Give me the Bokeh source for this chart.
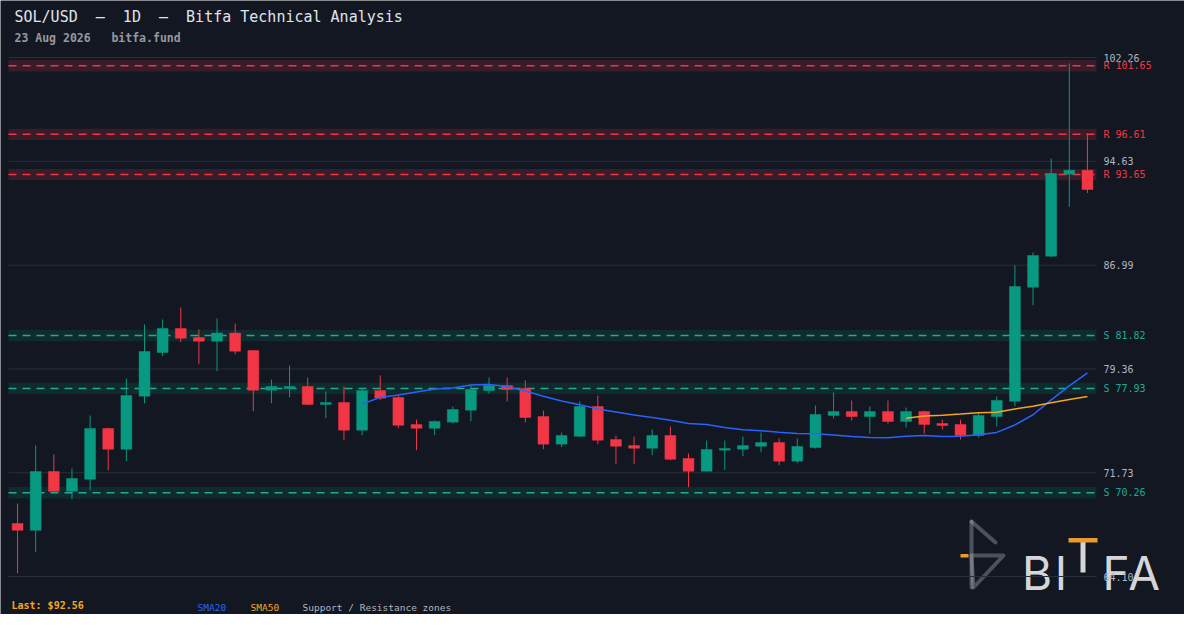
import pandas as pd
from bokeh.plotting import figure
from bokeh.models import Label, PolyAnnotation, ColumnDataSource
from bokeh.core.properties import value
from bokeh.embed import file_html
from bokeh.resources import INLINE

# ---------------- data ----------------
opens = [68.00, 67.50, 71.82, 70.37, 71.25, 74.98, 73.46, 77.36, 80.57, 82.33,
         81.67, 81.40, 82.00, 80.72, 77.80, 77.92, 78.07, 76.75, 76.89, 74.86,
         77.77, 77.26, 75.27, 75.00, 75.45, 76.33, 77.77, 78.14, 77.92, 75.86,
         73.83, 74.41, 76.60, 74.17, 73.73, 73.53, 74.47, 72.78, 71.84, 73.39,
         73.46, 73.68, 73.95, 72.58, 73.58, 75.94, 76.23, 75.86, 76.23, 75.50,
         76.23, 75.35, 75.28, 74.47, 75.86, 76.99, 85.37, 87.65, 93.68, 93.97]
highs = [69.46, 73.73, 73.07, 72.04, 75.94, 75.05, 78.66, 82.63, 83.00, 83.88,
         82.26, 83.07, 82.70, 80.75, 78.58, 79.61, 78.73, 77.70, 78.07, 77.92,
         78.88, 77.48, 75.64, 75.57, 76.60, 78.22, 78.73, 78.73, 78.51, 76.30,
         74.69, 76.97, 77.41, 74.47, 74.39, 74.91, 75.13, 73.14, 74.10, 74.10,
         74.39, 74.69, 74.25, 74.25, 76.67, 77.63, 77.04, 76.60, 77.04, 76.52,
         76.30, 75.64, 75.64, 76.16, 77.33, 86.97, 87.92, 94.83, 101.82, 96.67]
lows = [64.34, 65.89, 70.30, 69.78, 70.44, 71.92, 72.58, 76.84, 80.30, 81.33,
        79.71, 79.20, 80.44, 76.25, 76.84, 77.28, 76.70, 75.74, 74.12, 74.49,
        77.06, 75.00, 73.39, 74.49, 75.35, 75.52, 77.55, 76.97, 75.42, 73.46,
        73.61, 74.35, 73.83, 72.36, 72.36, 73.02, 72.65, 70.67, 71.80, 71.92,
        72.94, 73.24, 72.28, 72.43, 73.51, 75.72, 75.57, 74.61, 75.35, 75.05,
        74.61, 74.91, 74.17, 74.32, 75.13, 76.62, 84.05, 87.58, 91.28, 92.30]
closes = [67.50, 71.82, 70.37, 71.30, 74.98, 73.46, 77.41, 80.64, 82.33, 81.62,
          81.40, 82.00, 80.67, 77.80, 78.07, 78.07, 76.75, 76.89, 74.86, 77.77,
          77.21, 75.22, 75.00, 75.50, 76.38, 77.85, 78.14, 77.85, 75.79, 73.83,
          74.47, 76.60, 74.12, 73.68, 73.53, 74.47, 72.72, 71.84, 73.44, 73.51,
          73.73, 73.95, 72.58, 73.66, 76.01, 76.23, 75.86, 76.23, 75.50, 76.23,
          75.28, 75.20, 74.47, 75.94, 77.04, 85.42, 87.70, 93.73, 93.97, 92.56]

price_levels = [64.10, 71.73, 79.36, 86.99, 94.63, 102.26]
resistance_levels = [101.65, 96.61, 93.65]
support_levels = [81.82, 77.93, 70.26]
last_price = 92.56

NB = "\u00a0"
title_text = ("SOL/USD" + NB * 2 + "\u2014" + NB * 2 + "1D" + NB * 2 + "\u2014" + NB * 2
              + "Bitfa Technical Analysis")
subtitle_text = "23 Aug 2026" + NB * 3 + "bitfa.fund"
legend_items = ["SMA20", "SMA50", "Support / Resistance zones"]

# ---------------- styles ----------------
BG = "#131722"
GRID = "#2a2e39"
UP = "#089981"
DOWN = "#f23645"
SMA20_C = "#2962ff"
SMA50_C = "#f5a623"
R_LINE = "#f23645"
R_BAND = "#391c29"
S_LINE = "#22ab94"
S_BAND = "#0f2b2d"
TXT = "#b2b5be"
MONO = "DejaVu Sans Mono"
ZONE_HALF = 0.42

# ---------------- layout: the frame fills the canvas ----------------
W, H = 1184, 614
DL, DR, DT, DB = 8, 1096, 57, 576      # price/candle region inside the canvas (px)
n = len(closes)
x_lo, x_hi = -0.5, n - 0.5
y_lo, y_hi = price_levels[0], price_levels[-1]
kx = (DR - DL) / (x_hi - x_lo)
ky = (DB - DT) / (y_hi - y_lo)
x_range = (x_lo - DL / kx, x_hi + (W - DR) / kx)
y_range = (y_lo - (H - DB) / ky, y_hi + DT / ky)

idx = list(range(n))
colors = [UP if c >= o else DOWN for o, c in zip(opens, closes)]
src = ColumnDataSource(dict(
    x=idx, open=opens, high=highs, low=lows, close=closes,
    top=[max(o, c) for o, c in zip(opens, closes)],
    bottom=[min(o, c) for o, c in zip(opens, closes)],
    color=colors,
))

s = pd.Series(closes)
sma20 = s.rolling(20).mean().tolist()
sma50 = s.rolling(50).mean().tolist()

p = figure(width=W, height=H, x_range=x_range, y_range=y_range,
           output_backend="svg", toolbar_location=None,
           background_fill_color=BG, border_fill_color=BG,
           outline_line_color=None, x_axis_location=None, y_axis_location=None,
           min_border=0)
p.grid.visible = False

# ---------------- logo (drawn underneath the chart marks) ----------------
LOGO = "#d6d6da"
ORANGE = "#e89b2c"

def sx(X):
    return X - 8

def sy(Y):
    return 622 - Y

def stroke(pts, color, w=4):
    p.add_layout(PolyAnnotation(xs=[sx(a) for a, b in pts], ys=[sy(b) for a, b in pts],
                                xs_units="screen", ys_units="screen",
                                line_color=color, line_width=w, line_cap="round",
                                line_join="round", fill_alpha=0, level="underlay"))

def rect(x0, y0, x1, y1, color):
    p.add_layout(PolyAnnotation(xs=[sx(x0), sx(x1), sx(x1), sx(x0)],
                                ys=[sy(y0), sy(y0), sy(y1), sy(y1)],
                                xs_units="screen", ys_units="screen",
                                line_alpha=0, fill_color=color, fill_alpha=1,
                                level="underlay"))

stroke([(979, 529), (979, 595)], LOGO)
stroke([(979, 529), (1003, 550)], LOGO)
stroke([(979, 563), (1011, 563), (981, 595)], LOGO)
rect(968, 561.5, 976, 565, ORANGE)
for ch, X in [("B", 1044.5), ("I", 1068.5), ("F", 1123.5), ("A", 1151.5)]:
    p.add_layout(Label(x=sx(X), y=sy(580), x_units="screen", y_units="screen",
                       text=ch, text_color=LOGO, text_font="Inter",
                       text_font_size="46px", text_align="center",
                       text_baseline="alphabetic", level="underlay"))
rect(1088, 549, 1093, 580, LOGO)
rect(1076, 545.5, 1105, 550, ORANGE)

# price grid + price labels (right side)
p.segment(x0=[x_lo] * len(price_levels), x1=[x_hi] * len(price_levels),
          y0=price_levels, y1=price_levels, line_color=GRID, line_width=1)
p.text(x=[x_hi] * len(price_levels), y=price_levels,
       text=["%.2f" % v for v in price_levels], x_offset=7,
       text_color=TXT, text_font=value(MONO), text_font_size=value("10px"),
       text_baseline="middle", text_align="left")

# zones
def zones(levels, band, line, prefix):
    k = len(levels)
    p.quad(left=[x_lo] * k, right=[x_hi] * k,
           bottom=[v - ZONE_HALF for v in levels], top=[v + ZONE_HALF for v in levels],
           fill_color=band, line_color=None)
    p.segment(x0=[x_lo] * k, x1=[x_hi] * k, y0=levels, y1=levels,
              line_color=line, line_width=1.5, line_dash="8 6")
    p.text(x=[x_hi] * k, y=levels, text=["%s %.2f" % (prefix, v) for v in levels],
           x_offset=7, text_color=line, text_font=value(MONO),
           text_font_size=value("10px"), text_baseline="middle", text_align="left")

zones(resistance_levels, R_BAND, R_LINE, "R")
zones(support_levels, S_BAND, S_LINE, "S")

# candles
p.segment(x0="x", y0="low", x1="x", y1="high", color="color", line_width=1, source=src)
p.vbar(x="x", width=0.6, top="top", bottom="bottom", fill_color="color",
       line_color="color", line_width=0.5, source=src)

# moving averages
p.line(idx, sma20, line_color=SMA20_C, line_width=1.5)
p.line(idx, sma50, line_color=SMA50_C, line_width=1.5)

# ---------------- texts ----------------
p.add_layout(Label(x=sx(22), y=sy(24), x_units="screen", y_units="screen",
                   text=title_text, text_color="#e0e3eb", text_font=MONO,
                   text_font_size="15px", text_baseline="middle"))
p.add_layout(Label(x=sx(22), y=sy(45), x_units="screen", y_units="screen",
                   text=subtitle_text, text_color="#9598a1", text_font=MONO,
                   text_font_style="bold", text_font_size="11.5px",
                   text_baseline="middle"))
p.add_layout(Label(x=sx(19), y=sy(613), x_units="screen", y_units="screen",
                   text="Last: $%.2f" % last_price, text_color=SMA50_C,
                   text_font=MONO, text_font_style="bold", text_font_size="10px",
                   text_baseline="middle"))
for txt, X, col in zip(legend_items, [205, 258, 310], [SMA20_C, SMA50_C, TXT]):
    p.add_layout(Label(x=sx(X), y=sy(615), x_units="screen", y_units="screen",
                       text=txt, text_color=col, text_font=MONO,
                       text_font_size="9.5px", text_baseline="middle"))

open("out.html", "w").write(file_html(p, INLINE))
